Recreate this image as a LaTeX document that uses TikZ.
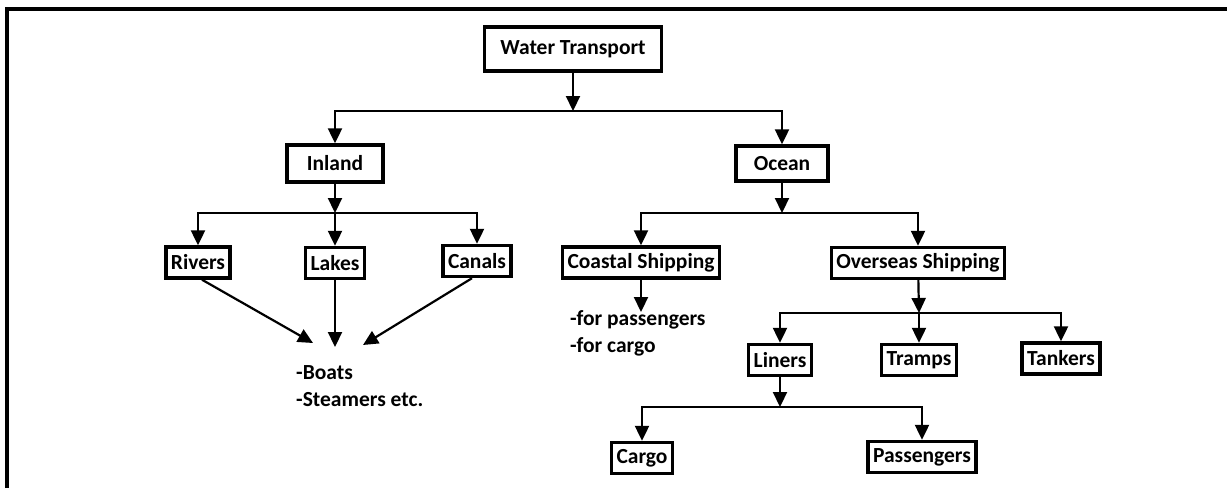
\documentclass[tikz,border=0pt]{standalone}
\usepackage{fontspec}
\setmainfont{Carlito}
\usetikzlibrary{arrows.meta}
\begin{document}
\begin{tikzpicture}[x=1pt,y=-1pt,
  box/.style={draw,line width=3.4pt,font=\bfseries\fontsize{21.5}{27}\selectfont,inner xsep=5pt,inner ysep=0pt,minimum height=31pt},
  note/.style={font=\bfseries\fontsize{21.5}{27}\selectfont,align=left,inner sep=0pt},
  arr/.style={line width=2.2pt,-{Triangle[length=15pt,width=14pt]}}]
\useasboundingbox (0,0) rectangle (1227,488);
\fill[white] (0,0) rectangle (1227,488);
% frame
\draw[line width=4pt] (6.5,488) -- (6.5,8.5) -- (1227,8.5);
% nodes
\node[box,minimum width=177pt,minimum height=44pt] (wt) at (573,49) {Water Transport};
\node[box,minimum width=96pt,minimum height=37pt] (inland) at (335,163.5) {Inland};
\node[box,minimum width=92pt,minimum height=35pt] (ocean) at (782,163.5) {Ocean};
\node[box] (rivers) at (198,262.5) {Rivers};
\node[box] (lakes) at (335,263) {Lakes};
\node[box] (canals) at (477,261) {Canals};
\node[box] (coastal) at (641,262.5) {Coastal Shipping};
\node[box] (overseas) at (918,263) {Overseas Shipping};
\node[box] (liners) at (780,360) {Liners};
\node[box] (tramps) at (919,360) {Tramps};
\node[box] (tankers) at (1061,358.5) {Tankers};
\node[box] (cargo) at (642,458) {Cargo};
\node[box] (passengers) at (922,457) {Passengers};
\node[note,anchor=west] (boats) at (296,386) {-Boats\\-Steamers etc.};
\node[note,anchor=west] (coastnote) at (570,333.5) {-for passengers\\-for cargo};
% bus coordinates
\coordinate (b1) at (573,111);
\coordinate (b2) at (335,213);
\coordinate (b3) at (782,213);
\coordinate (b4) at (919,313);
\coordinate (b5) at (780,407);
\coordinate (r1) at (313,343);
\coordinate (l1) at (335,347);
\coordinate (c1) at (363,345);
\coordinate (cs1) at (641,312);
% connectors
\draw[arr] (wt) -- (b1);
\draw[arr] (b1) -| (inland);
\draw[arr] (b1) -| (ocean);
\draw[arr] (inland) -- (b2);
\draw[arr] (b2) -| (rivers);
\draw[arr] (b2) -- (lakes);
\draw[arr] (b2) -| (canals);
\draw[arr] (ocean) -- (b3);
\draw[arr] (b3) -| (coastal);
\draw[arr] (b3) -| (overseas);
\draw[arr] (overseas) -- (b4);
\draw[arr] (b4) -| (liners);
\draw[arr] (b4) -- (tramps);
\draw[arr] (b4) -| (tankers);
\draw[arr] (liners) -- (b5);
\draw[arr] (b5) -| (cargo);
\draw[arr] (b5) -| (passengers);
\draw[arr] (rivers.south) ++(4,0) coordinate (rs) (rs) -- (r1);
\draw[arr] (lakes) -- (l1);
\draw[arr] (canals.south) ++(-5,0) coordinate (cs) (cs) -- (c1);
\draw[arr] (coastal) -- (cs1);
\end{tikzpicture}
\end{document}
